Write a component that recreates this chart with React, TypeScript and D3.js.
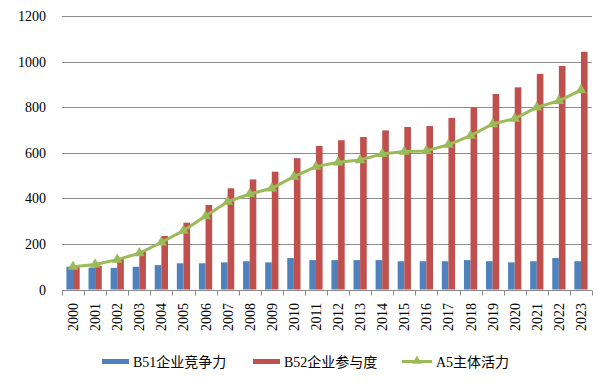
import * as d3 from "d3";
import { useEffect, useRef } from "react";

const years = ["2000", "2001", "2002", "2003", "2004", "2005", "2006", "2007", "2008", "2009", "2010", "2011",
  "2012", "2013", "2014", "2015", "2016", "2017", "2018", "2019", "2020", "2021", "2022", "2023"];
const b51 = [100, 96, 95, 100, 107, 115, 115, 119, 124, 119, 138, 129,
  129, 129, 129, 124, 124, 124, 129, 124, 119, 124, 138, 124];
const b52 = [98, 105, 137, 170, 235, 293, 371, 444, 483, 517, 576, 630,
  655, 669, 698, 713, 717, 753, 799, 858, 887, 946, 981, 1043];
const a5 = [100, 110, 131, 159, 207, 258, 322, 385, 419, 444, 495, 539,
  558, 568, 595, 605, 608, 635, 675, 726, 750, 799, 828, 875];
const yTicks = [0, 200, 400, 600, 800, 1000, 1200];
const seriesNames = ["B51企业竞争力", "B52企业参与度", "A5主体活力"];

const BLUE = "#4F81BD";
const RED = "#C0504D";
const GREEN = "#9BBB59";
const FONT = "'Liberation Serif', 'Noto Sans CJK SC', serif";

export default function App() {
  const svgRef = useRef<SVGSVGElement>(null);
  const width = 610;
  const height = 384;

  useEffect(() => {
    const svg = d3.select(svgRef.current);
    svg.selectAll("*").remove();

    const left = 62, right = 592, top = 16, bottom = 289.5;
    const x = d3.scaleBand<string>().domain(years).range([left, right]);
    const y = d3.scaleLinear().domain([0, 1200]).range([bottom, top]);
    const bw = x.bandwidth() * 0.3;

    // gridlines
    svg.append("g").selectAll("line").data(yTicks.filter(d => d > 0)).join("line")
      .attr("x1", left).attr("x2", right)
      .attr("y1", d => Math.round(y(d)) + 0.5).attr("y2", d => Math.round(y(d)) + 0.5)
      .attr("stroke", "#8c8c8c").attr("stroke-width", 1);

    svg.append("g").selectAll("text").data(yTicks).join("text")
      .attr("x", 46).attr("y", d => y(d) + 5)
      .attr("text-anchor", "end").attr("font-size", 14).attr("font-family", FONT)
      .attr("fill", "#000").text(d => d);

    // bars
    const bars = svg.append("g");
    bars.selectAll("rect.b51").data(years).join("rect").attr("class", "b51")
      .attr("x", d => x(d)! + x.bandwidth() / 2 - bw)
      .attr("width", bw)
      .attr("y", (d, i) => y(b51[i]))
      .attr("height", (d, i) => bottom - y(b51[i]))
      .attr("fill", BLUE);
    bars.selectAll("rect.b52").data(years).join("rect").attr("class", "b52")
      .attr("x", d => x(d)! + x.bandwidth() / 2)
      .attr("width", bw)
      .attr("y", (d, i) => y(b52[i]))
      .attr("height", (d, i) => bottom - y(b52[i]))
      .attr("fill", RED);

    // x axis
    const axisY = Math.round(bottom) + 0.5;
    svg.append("line").attr("x1", left).attr("x2", right)
      .attr("y1", axisY).attr("y2", axisY).attr("stroke", "#8c8c8c");
    svg.append("g").selectAll("line").data(d3.range(years.length + 1)).join("line")
      .attr("x1", i => Math.round(left + i * x.step()) + 0.5)
      .attr("x2", i => Math.round(left + i * x.step()) + 0.5)
      .attr("y1", axisY).attr("y2", axisY + 5)
      .attr("stroke", "#8c8c8c");
    svg.append("g").selectAll("text").data(years).join("text")
      .attr("transform", d => `translate(${x(d)! + x.bandwidth() / 2 + 5},303) rotate(-90)`)
      .attr("text-anchor", "end").attr("font-size", 14).attr("font-family", FONT)
      .attr("fill", "#000").text(d => d);

    // line
    const cx = (d: string) => x(d)! + x.bandwidth() / 2;
    const line = d3.line<number>().x((d, i) => cx(years[i])).y(d => y(d));
    svg.append("path").datum(a5).attr("d", line)
      .attr("fill", "none").attr("stroke", GREEN).attr("stroke-width", 3)
      .attr("stroke-linejoin", "round");
    const tri = d3.symbol().type(d3.symbolTriangle).size(50);
    svg.append("g").selectAll("path").data(a5).join("path")
      .attr("d", tri)
      .attr("transform", (d, i) => `translate(${cx(years[i])},${y(d)})`)
      .attr("fill", GREEN);

    // legend
    const leg = svg.append("g");
    const legX = [102, 253, 402];
    leg.append("rect").attr("x", legX[0]).attr("y", 359).attr("width", 27).attr("height", 5).attr("fill", BLUE);
    leg.append("rect").attr("x", legX[1]).attr("y", 359).attr("width", 27).attr("height", 5).attr("fill", RED);
    leg.append("line").attr("x1", legX[2]).attr("x2", legX[2] + 30).attr("y1", 361.5).attr("y2", 361.5)
      .attr("stroke", GREEN).attr("stroke-width", 3);
    leg.append("path").attr("d", d3.symbol().type(d3.symbolTriangle).size(40))
      .attr("transform", `translate(${legX[2] + 15},361)`).attr("fill", GREEN);
    leg.selectAll("text").data(seriesNames).join("text")
      .attr("x", (d, i) => legX[i] + (i === 2 ? 34 : 31))
      .attr("y", 367)
      .attr("font-size", 14).attr("font-family", FONT).attr("fill", "#000")
      .text(d => d);
  }, []);

  return (
    <svg ref={svgRef} width={width} height={height}
      style={{ position: "absolute", left: 0, top: 0, background: "#fff" }} />
  );
}
